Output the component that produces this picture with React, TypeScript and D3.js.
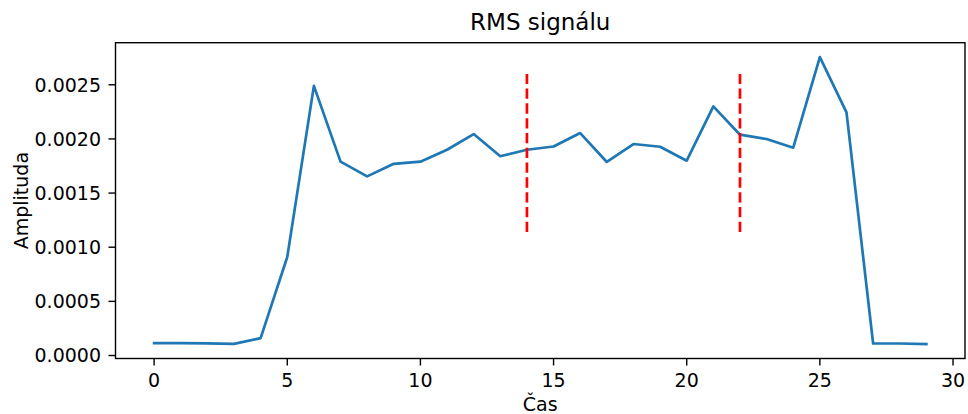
import React from "react";
import * as d3 from "d3";

// RMS amplitude per time step
const time: number[] = Array.from({ length: 30 }, (_, i) => i);
const rms: number[] = [
  0.000115, 0.000115, 0.000113, 0.000107, 0.00016, 0.00091, 0.00249, 0.00179,
  0.001654, 0.00177, 0.00179, 0.0019, 0.002045, 0.00184, 0.0019, 0.00193,
  0.002054, 0.001787, 0.001953, 0.001928, 0.001799, 0.0023, 0.002039, 0.001999,
  0.001919, 0.002756, 0.002245, 0.000111, 0.000111, 0.000105,
];

// segment boundaries (red dashed markers)
const markers: number[] = [14, 22];
const markerRange: [number, number] = [0.00114, 0.0026];

const xTicks: number[] = [0, 5, 10, 15, 20, 25, 30];
const yTicks: number[] = [0, 0.0005, 0.001, 0.0015, 0.002, 0.0025];

const title = "RMS signálu";
const xLabel = "Čas";
const yLabel = "Amplituda";

const W = 968;
const H = 414;
const M = { left: 115.5, right: 965, top: 42.7, bottom: 358.5 };
const FONT = "'DejaVu Sans', sans-serif";
const TICK_FS = 19;

function padded(lo: number, hi: number): [number, number] {
  const p = (hi - lo) * 0.05;
  return [lo - p, hi + p];
}

export default function App() {
  const [xMin, xMax] = d3.extent(time) as [number, number];
  const [yMin, yMax] = d3.extent(rms) as [number, number];
  const x = d3.scaleLinear().domain(padded(xMin, xMax)).range([M.left, M.right]);
  const y = d3.scaleLinear().domain(padded(yMin, yMax)).range([M.bottom, M.top]);

  const line = d3
    .line<number>()
    .x((_, i) => x(time[i]))
    .y((d) => y(d));

  const fmt = d3.format(".4f");
  const cx = (M.left + M.right) / 2;
  const cy = (M.top + M.bottom) / 2;

  return (
    <svg
      width={W}
      height={H}
      style={{ position: "absolute", left: 0, top: 0, background: "#fff" }}
      fontFamily={FONT}
    >
      <rect x={0} y={0} width={W} height={H} fill="#fff" />

      <path
        d={line(rms) ?? ""}
        fill="none"
        stroke="#1f77b4"
        strokeWidth={2.7}
        strokeLinejoin="round"
        strokeLinecap="square"
      />

      {markers.map((m) => (
        <line
          key={m}
          x1={x(m)}
          x2={x(m)}
          y1={y(markerRange[0])}
          y2={y(markerRange[1])}
          stroke="#ff0000"
          strokeWidth={2.7}
          strokeDasharray="10.3 4.5"
        />
      ))}

      {/* spines */}
      <rect
        x={M.left}
        y={M.top}
        width={M.right - M.left}
        height={M.bottom - M.top}
        fill="none"
        stroke="#000"
        strokeWidth={1.4}
      />

      {xTicks.map((t) => (
        <g key={`x${t}`}>
          <line x1={x(t)} x2={x(t)} y1={M.bottom} y2={M.bottom + 7} stroke="#000" strokeWidth={1.4} />
          <text x={x(t)} y={387.3} textAnchor="middle" fontSize={TICK_FS} fill="#000">
            {t}
          </text>
        </g>
      ))}

      {yTicks.map((t) => (
        <g key={`y${t}`}>
          <line x1={M.left - 7} x2={M.left} y1={y(t)} y2={y(t)} stroke="#000" strokeWidth={1.4} />
          <text
            x={M.left - 14.5}
            y={y(t) + TICK_FS * 0.364}
            textAnchor="end"
            fontSize={TICK_FS}
            fill="#000"
          >
            {fmt(t)}
          </text>
        </g>
      ))}

      <text x={cx} y={30} textAnchor="middle" fontSize={23} fill="#000">
        {title}
      </text>
      <text x={cx} y={411} textAnchor="middle" fontSize={TICK_FS} fill="#000">
        {xLabel}
      </text>
      <text
        transform={`translate(27.5, ${cy}) rotate(-90)`}
        textAnchor="middle"
        fontSize={TICK_FS}
        fill="#000"
      >
        {yLabel}
      </text>
    </svg>
  );
}
